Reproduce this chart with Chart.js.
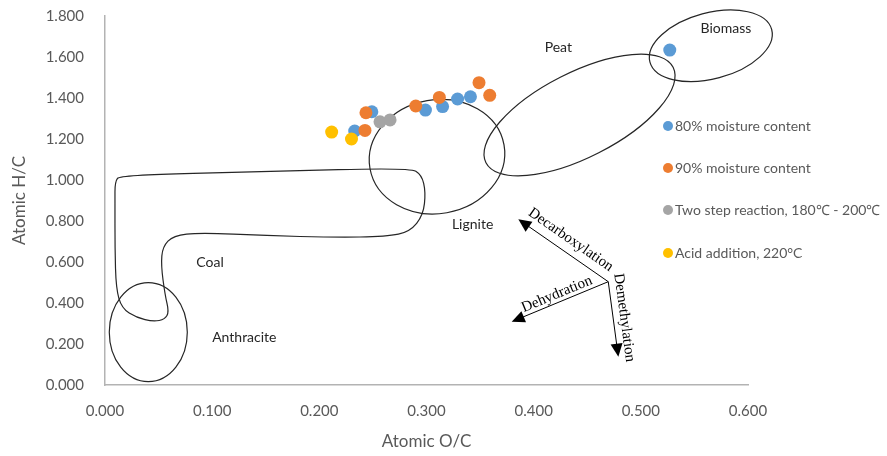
<!DOCTYPE html>
<html>
<head>
<meta charset="utf-8">
<script src="https://cdn.jsdelivr.net/npm/chart.js@4/dist/chart.umd.min.js"></script>
<style>
  body { margin: 0; background: #fff; }
</style>
</head>
<body>
<canvas id="chart_vk" width="887" height="456"></canvas>
<script>
// series values
var moist80X = [0.527, 0.249, 0.233, 0.299, 0.315, 0.329, 0.341]
var moist80Y = [1.634, 1.333, 1.239, 1.341, 1.358, 1.395, 1.406]
var moist90X = [0.2435, 0.2426, 0.290, 0.312, 0.349, 0.359]
var moist90Y = [1.328, 1.242, 1.361, 1.403, 1.475, 1.413]
var twoStepX = [0.2566, 0.266]
var twoStepY = [1.284, 1.293]
var acidX = [0.2115, 0.230]
var acidY = [1.234, 1.200]

var seriesNames = ["80% moisture content", "90% moisture content", "Two step reaction, 180\u2103 - 200\u2103", "Acid addition, 220\u00b0C"]
var seriesColors = ["#5B9BD5", "#ED7D31", "#A5A5A5", "#FFC000"]

// region labels (data units)
var regionNames = ["Biomass", "Peat", "Lignite", "Coal", "Anthracite"]
var regionX = [0.5794, 0.423, 0.343, 0.098, 0.130]
var regionY = [1.737, 1.647, 0.785, 0.597, 0.233]

// ellipses: center x/y, semi axes in data units, tilt in degrees
var ellCX = [0.0404, 0.3098, 0.4428, 0.5653]
var ellCY = [0.2576, 1.1137, 1.3171, 1.6546]
var ellRX = [0.0364, 0.0635, 0.0980, 0.0588]
var ellRY = [0.2415, 0.2776, 0.2068, 0.1610]
var ellTilt = [0, -10, -27, -15]

// coal outline
var coalX = [0.0140, 0.1509, 0.2846, 0.2955, 0.2992, 0.2970, 0.2846, 0.2629, 0.2130, 0.1509, 0.0886, 0.0637, 0.0538, 0.0523, 0.0560, 0.0597, 0.0560, 0.0451, 0.0296, 0.0156, 0.0103, 0.0093, 0.0093, 0.0093]
var coalY = [1.0244, 1.0405, 1.0600, 1.0244, 0.9429, 0.8293, 0.7478, 0.7234, 0.7205, 0.7283, 0.7429, 0.7283, 0.6746, 0.5854, 0.4390, 0.3576, 0.3205, 0.3088, 0.3283, 0.3741, 0.4717, 0.6668, 0.8941, 0.9917]

// reaction arrows from one origin
var arrowOrigin = [0.4696, 0.5039]
var arrowNames = ["Decarboxylation", "Dehydration", "Demethylation"]
var arrowTipX = [0.3857, 0.3795, 0.4790]
var arrowTipY = [0.8083, 0.3088, 0.1380]

function toPoints(xs, ys) {
    var pts = []
    xs.forEach(function (x, i) { pts.push({ x: x, y: ys[i] }) })
    return pts
}

var uiFont = "Lato, 'Open Sans', sans-serif"

// ellipses, coal outline, labels and arrows
var drawingsPlugin = {
    id: 'drawings',
    beforeDatasetsDraw: function (chart) {
        var c = chart.ctx
        var sx = chart.scales.x
        var sy = chart.scales.y
        var ux = sx.getPixelForValue(1) - sx.getPixelForValue(0)
        var uy = sy.getPixelForValue(0) - sy.getPixelForValue(1)
        c.save()
        c.strokeStyle = '#262626'
        c.lineWidth = 1.2

        for (var i = 0; i < ellCX.length; i++) {
            c.beginPath()
            c.ellipse(sx.getPixelForValue(ellCX[i]), sy.getPixelForValue(ellCY[i]),
                ellRX[i] * ux, ellRY[i] * uy, ellTilt[i] * Math.PI / 180, 0, Math.PI * 2)
            c.stroke()
        }

        // smooth closed outline through midpoints
        var px = coalX.map(function (v) { return sx.getPixelForValue(v) })
        var py = coalY.map(function (v) { return sy.getPixelForValue(v) })
        var n = px.length
        c.beginPath()
        c.moveTo((px[n - 1] + px[0]) / 2, (py[n - 1] + py[0]) / 2)
        for (var k = 0; k < n; k++) {
            var j = (k + 1) % n
            c.quadraticCurveTo(px[k], py[k], (px[k] + px[j]) / 2, (py[k] + py[j]) / 2)
        }
        c.stroke()

        c.fillStyle = '#262626'
        c.font = '14px ' + uiFont
        c.textAlign = 'center'
        c.textBaseline = 'middle'
        regionNames.forEach(function (name, i) {
            c.fillText(name, sx.getPixelForValue(regionX[i]), sy.getPixelForValue(regionY[i]))
        })

        // arrows
        var ox = sx.getPixelForValue(arrowOrigin[0])
        var oy = sy.getPixelForValue(arrowOrigin[1])
        var offs = [13, 8, 11]
        c.strokeStyle = '#000'
        c.fillStyle = '#000'
        c.lineWidth = 1
        arrowNames.forEach(function (name, i) {
            var tx = sx.getPixelForValue(arrowTipX[i])
            var ty = sy.getPixelForValue(arrowTipY[i])
            var a = Math.atan2(ty - oy, tx - ox)
            c.beginPath()
            c.moveTo(ox, oy)
            c.lineTo(tx - 10 * Math.cos(a), ty - 10 * Math.sin(a))
            c.stroke()
            c.beginPath()
            c.moveTo(tx, ty)
            c.lineTo(tx - 13 * Math.cos(a) + 6 * Math.sin(a), ty - 13 * Math.sin(a) - 6 * Math.cos(a))
            c.lineTo(tx - 13 * Math.cos(a) - 6 * Math.sin(a), ty - 13 * Math.sin(a) + 6 * Math.cos(a))
            c.closePath()
            c.fill()

            // label runs along the arrow, reading left to right
            var ta = a
            if (Math.cos(ta) < -0.01) ta = ta + Math.PI
            var mx = (ox + tx) / 2
            var my = (oy + ty) / 2
            var nx = Math.sin(ta), ny = -Math.cos(ta)
            c.save()
            c.translate(mx + nx * offs[i], my + ny * offs[i])
            c.rotate(ta)
            c.font = '15px "Liberation Serif", "DejaVu Serif", serif'
            c.textAlign = 'center'
            c.textBaseline = 'middle'
            c.fillText(name, 0, 0)
            c.restore()
        })
        c.restore()
    },
    afterDraw: function (chart) {
        // floating legend like the original
        var c = chart.ctx
        var ly = [126, 168, 210, 253]
        c.save()
        c.font = '14px ' + uiFont
        c.textBaseline = 'middle'
        c.textAlign = 'left'
        seriesNames.forEach(function (name, i) {
            c.fillStyle = seriesColors[i]
            c.beginPath()
            c.arc(668, ly[i], 5, 0, Math.PI * 2)
            c.fill()
            c.fillStyle = '#595959'
            c.fillText(name, 675, ly[i])
        })
        c.restore()
    }
}

var ctx = document.getElementById('chart_vk').getContext('2d')
var myChart = new Chart(ctx, {
    type: 'scatter',
    data: {
        datasets: [
            { label: seriesNames[0], data: toPoints(moist80X, moist80Y), backgroundColor: seriesColors[0], borderColor: seriesColors[0], order: 4 },
            { label: seriesNames[1], data: toPoints(moist90X, moist90Y), backgroundColor: seriesColors[1], borderColor: seriesColors[1], order: 3 },
            { label: seriesNames[2], data: toPoints(twoStepX, twoStepY), backgroundColor: seriesColors[2], borderColor: seriesColors[2], order: 2 },
            { label: seriesNames[3], data: toPoints(acidX, acidY), backgroundColor: seriesColors[3], borderColor: seriesColors[3], order: 1 }
        ]
    },
    options: {
        responsive: false,
        animation: false,
        layout: { padding: { top: 16, right: 139, left: 0, bottom: 0 } },
        elements: { point: { radius: 6.5, borderWidth: 0, hoverRadius: 6.5 } },
        plugins: { legend: { display: false }, tooltip: { enabled: false } },
        scales: {
            x: {
                min: 0, max: 0.6,
                afterFit: function (s) { s.height = 71; s.paddingLeft = 0; s.paddingRight = 0 },
                grid: { display: false, drawTicks: false },
                border: { color: '#b3b3b3', width: 1.5 },
                ticks: { stepSize: 0.1, padding: 17, color: '#595959', font: { family: uiFont, size: 15 },
                    callback: function (v) { return v.toFixed(3) } },
                title: { display: true, text: 'Atomic O/C', color: '#595959', font: { family: uiFont, size: 17 }, padding: { top: 4 } }
            },
            y: {
                min: 0, max: 1.8,
                afterFit: function (s) { s.width = 105; s.paddingTop = 0; s.paddingBottom = 0 },
                grid: { display: false, drawTicks: false },
                border: { color: '#b3b3b3', width: 1.5 },
                ticks: { stepSize: 0.2, padding: 21, color: '#595959', font: { family: uiFont, size: 15 },
                    callback: function (v) { return v.toFixed(3) } },
                title: { display: true, text: 'Atomic H/C', color: '#595959', font: { family: uiFont, size: 17 }, padding: { top: 9, bottom: 4 } }
            }
        }
    },
    plugins: [drawingsPlugin]
})
</script>
</body>
</html>
